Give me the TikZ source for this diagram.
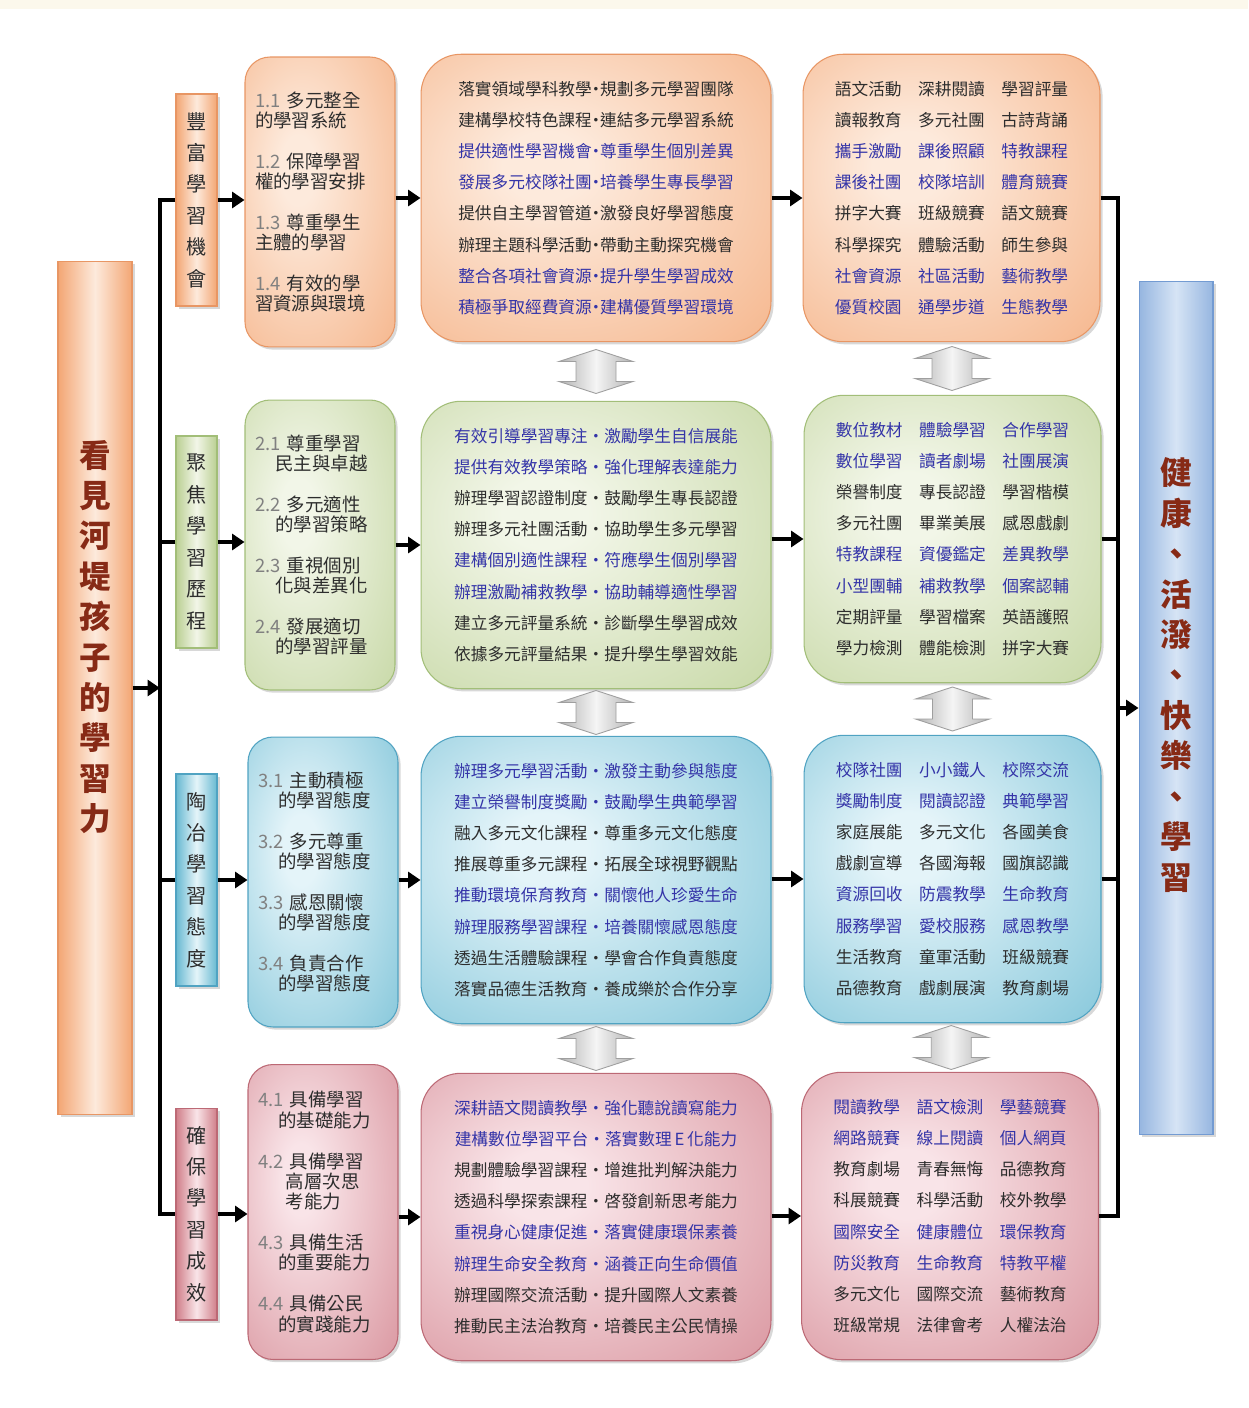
\documentclass[tikz,border=0pt]{standalone}
\usepackage{fontspec}
\setmainfont{Noto Sans CJK TC}
\usetikzlibrary{arrows.meta,calc,shadows}

% Soft radial shading: light centre, coloured rim
\makeatletter
\pgfdeclareradialshading[tikz@radial@inner,tikz@radial@outer]{softradial}{\pgfpoint{-8bp}{6bp}}{%
  color(0bp)=(tikz@radial@inner);color(6bp)=(tikz@radial@inner);color(52bp)=(tikz@radial@outer);color(75bp)=(tikz@radial@outer)}
\makeatother

% Colours of the four rows and the two side labels
\definecolor{oraD}{RGB}{243,166,116}
\definecolor{oraL}{RGB}{253,234,220}
\definecolor{oraB}{RGB}{232,150,100}
\definecolor{grnD}{RGB}{186,207,146}
\definecolor{grnL}{RGB}{242,246,232}
\definecolor{grnB}{RGB}{162,190,120}
\definecolor{bluD}{RGB}{104,185,209}
\definecolor{bluL}{RGB}{228,244,249}
\definecolor{bluB}{RGB}{80,163,194}
\definecolor{pnkD}{RGB}{208,126,137}
\definecolor{pnkL}{RGB}{249,228,232}
\definecolor{pnkB}{RGB}{188,105,117}
\definecolor{goalD}{RGB}{150,182,224}
\definecolor{goalL}{RGB}{214,228,245}
\definecolor{goalB}{RGB}{115,155,210}
\definecolor{txtblue}{RGB}{52,52,168}
\definecolor{txtdark}{RGB}{45,45,45}
\definecolor{txtred}{RGB}{135,42,22}
\definecolor{cream}{RGB}{252,248,236}

\newcommand{\blu}[1]{\textcolor{txtblue}{#1}}
\newcommand{\drk}[1]{\textcolor{txtdark}{#1}}
\newcommand{\secno}[1]{\textcolor{gray}{#1}}
\newcommand{\colgap}{\hspace{0.33cm}}
\newcommand{\middot}{\makebox[0.5em]{·}}

\tikzset{
  shade box/.style={draw=#1B, line width=0.6pt, inner color=#1L, outer color=#1D, shading=softradial,
    drop shadow={shadow xshift=1.5pt, shadow yshift=-1.5pt, opacity=0.3}},
  bigbox/.style={draw=#1B, line width=0.6pt, left color=#1D, right color=#1D, middle color=#1L,
    minimum width=1.48cm, minimum height=17.06cm,
    drop shadow={shadow xshift=1.5pt, shadow yshift=-1.5pt, opacity=0.3}},
  bigtext/.style={align=center, text=txtred, font=\fontsize{18pt}{23pt}\selectfont\bfseries},
  tagbox/.style={draw=#1B, line width=0.6pt, left color=#1D, right color=#1D, middle color=#1L,
    minimum width=0.82cm, minimum height=4.24cm, align=center, text=txtdark,
    font=\fontsize{11.5pt}{17.9pt}\selectfont,
    drop shadow={shadow xshift=1.5pt, shadow yshift=-1.5pt, opacity=0.3}},
  subbox/.style={shade box=#1, rounded corners=0.5cm, minimum width=3cm, minimum height=5.8cm,
    text width=2.6cm, align=left, text=txtdark, font=\fontsize{10.5pt}{11.6pt}\selectfont},
  midbox/.style={shade box=#1, rounded corners=0.8cm, minimum width=7cm, minimum height=5.75cm,
    align=center, font=\fontsize{9.5pt}{17.75pt}\selectfont},
  resbox/.style={shade box=#1, rounded corners=0.8cm, minimum width=5.94cm, minimum height=5.75cm,
    align=center, font=\fontsize{9.5pt}{17.75pt}\selectfont},
  trunk/.style={line width=2.6pt},
  conn/.style={line width=2.6pt, -{Triangle[length=7pt,width=9pt]}},
  updown/.pic={
    \shade[left color=gray!60, right color=gray!60, middle color=gray!8, draw=gray!75, line width=0.5pt]
      (0,-22) -- (37,-10) -- (20,-10) -- (20,10) -- (37,10) -- (0,22)
      -- (-37,10) -- (-20,10) -- (-20,-10) -- (-37,-10) -- cycle;
  }
}

\begin{document}
\begin{tikzpicture}[x=0.02cm, y=-0.02cm]

% Canvas
\useasboundingbox (0,0) rectangle (1248,1408);
\fill[white] (0,0) rectangle (1248,1408);
\fill[cream] (0,0) rectangle (1248,9);

% Main idea on the left, goal on the right
\node[bigbox=ora] (main) at (95,688) {};
\node[bigtext] (maintext) at (95,637) {看\\見\\河\\堤\\孩\\子\\的\\學\\習\\力};
\node[bigbox=goal] (goal) at (1176,708) {};
\node[bigtext] (goaltext) at (1176,675) {健\\康\\、\\活\\潑\\、\\快\\樂\\、\\學\\習};

% Row tags
\node[tagbox=ora] (s1) at (196.5,200) {豐\\富\\學\\習\\機\\會};
\node[tagbox=grn] (s2) at (196.5,542) {聚\\焦\\學\\習\\歷\\程};
\node[tagbox=blu] (s3) at (196.5,880) {陶\\冶\\學\\習\\態\\度};
\node[tagbox=pnk] (s4) at (196.5,1214) {確\\保\\學\\習\\成\\效};

% Sub-goals
\node[subbox=ora] (l1) at (320,202) {\secno{1.1} 多元整全\\的學習系統\\[11.6pt]
  \secno{1.2} 保障學習\\權的學習安排\\[11.6pt]
  \secno{1.3} 尊重學生\\主體的學習\\[11.6pt]
  \secno{1.4} 有效的學\\習資源與環境};
\node[subbox=grn] (l2) at (320,545) {\secno{2.1} 尊重學習\\\hspace*{1.1em}民主與卓越\\[11.6pt]
  \secno{2.2} 多元適性\\\hspace*{1.1em}的學習策略\\[11.6pt]
  \secno{2.3} 重視個別\\\hspace*{1.1em}化與差異化\\[11.6pt]
  \secno{2.4} 發展適切\\\hspace*{1.1em}的學習評量};
\node[subbox=blu] (l3) at (323,882) {\secno{3.1} 主動積極\\\hspace*{1.1em}的學習態度\\[11.6pt]
  \secno{3.2} 多元尊重\\\hspace*{1.1em}的學習態度\\[11.6pt]
  \secno{3.3} 感恩關懷\\\hspace*{1.1em}的學習態度\\[11.6pt]
  \secno{3.4} 負責合作\\\hspace*{1.1em}的學習態度};
\node[subbox=pnk, minimum height=5.9cm] (l4) at (323,1212) {\secno{4.1} 具備學習\\\hspace*{1.1em}的基礎能力\\[11.6pt]
  \secno{4.2} 具備學習\\\hspace*{1.5em}高層次思\\\hspace*{1.5em}考能力\\[11.6pt]
  \secno{4.3} 具備生活\\\hspace*{1.1em}的重要能力\\[11.6pt]
  \secno{4.4} 具備公民\\\hspace*{1.1em}的實踐能力};

% Strategies
\node[midbox=ora] (m1) at (596,198) {\drk{落實領域學科教學\middot 規劃多元學習團隊}\\
  \drk{建構學校特色課程\middot 連結多元學習系統}\\
  \blu{提供適性學習機會\middot 尊重學生個別差異}\\
  \blu{發展多元校隊社團\middot 培養學生專長學習}\\
  \drk{提供自主學習管道\middot 激發良好學習態度}\\
  \drk{辦理主題科學活動\middot 帶動主動探究機會}\\
  \blu{整合各項社會資源\middot 提升學生學習成效}\\
  \blu{積極爭取經費資源\middot 建構優質學習環境}};
\node[midbox=grn] (m2) at (596,545) {\blu{有效引導學習專注・激勵學生自信展能}\\
  \blu{提供有效教學策略・強化理解表達能力}\\
  \drk{辦理學習認證制度・鼓勵學生專長認證}\\
  \drk{辦理多元社團活動・協助學生多元學習}\\
  \blu{建構個別適性課程・符應學生個別學習}\\
  \blu{辦理激勵補救教學・協助輔導適性學習}\\
  \drk{建立多元評量系統・診斷學生學習成效}\\
  \drk{依據多元評量結果・提升學生學習效能}};
\node[midbox=blu] (m3) at (596,880) {\blu{辦理多元學習活動・激發主動參與態度}\\
  \blu{建立榮譽制度獎勵・鼓勵學生典範學習}\\
  \drk{融入多元文化課程・尊重多元文化態度}\\
  \drk{推展尊重多元課程・拓展全球視野觀點}\\
  \blu{推動環境保育教育・關懷他人珍愛生命}\\
  \blu{辦理服務學習課程・培養關懷感恩態度}\\
  \drk{透過生活體驗課程・學會合作負責態度}\\
  \drk{落實品德生活教育・養成樂於合作分享}};
\node[midbox=pnk] (m4) at (596,1217) {\blu{深耕語文閱讀教學・強化聽說讀寫能力}\\
  \blu{建構數位學習平台・落實數理\,E\,化能力}\\
  \drk{規劃體驗學習課程・增進批判解決能力}\\
  \drk{透過科學探索課程・啓發創新思考能力}\\
  \blu{重視身心健康促進・落實健康環保素養}\\
  \blu{辦理生命安全教育・涵養正向生命價值}\\
  \drk{辦理國際交流活動・提升國際人文素養}\\
  \drk{推動民主法治教育・培養民主公民情操}};

% Activities
\node[resbox=ora] (r1) at (951.5,198) {\drk{語文活動\colgap 深耕閱讀\colgap 學習評量}\\
  \drk{讀報教育\colgap 多元社團\colgap 古詩背誦}\\
  \blu{攜手激勵\colgap 課後照顧\colgap 特教課程}\\
  \blu{課後社團\colgap 校隊培訓\colgap 體育競賽}\\
  \drk{拼字大賽\colgap 班級競賽\colgap 語文競賽}\\
  \drk{科學探究\colgap 體驗活動\colgap 師生參與}\\
  \blu{社會資源\colgap 社區活動\colgap 藝術教學}\\
  \blu{優質校園\colgap 通學步道\colgap 生態教學}};
\node[resbox=grn] (r2) at (952.5,539) {\blu{數位教材\colgap 體驗學習\colgap 合作學習}\\
  \blu{數位學習\colgap 讀者劇場\colgap 社團展演}\\
  \drk{榮譽制度\colgap 專長認證\colgap 學習楷模}\\
  \drk{多元社團\colgap 畢業美展\colgap 感恩戲劇}\\
  \blu{特教課程\colgap 資優鑑定\colgap 差異教學}\\
  \blu{小型團輔\colgap 補救教學\colgap 個案認輔}\\
  \drk{定期評量\colgap 學習檔案\colgap 英語護照}\\
  \drk{學力檢測\colgap 體能檢測\colgap 拼字大賽}};
\node[resbox=blu] (r3) at (952.5,879) {\blu{校隊社團\colgap 小小鐵人\colgap 校際交流}\\
  \blu{獎勵制度\colgap 閱讀認證\colgap 典範學習}\\
  \drk{家庭展能\colgap 多元文化\colgap 各國美食}\\
  \drk{戲劇宣導\colgap 各國海報\colgap 國旗認識}\\
  \blu{資源回收\colgap 防震教學\colgap 生命教育}\\
  \blu{服務學習\colgap 愛校服務\colgap 感恩教學}\\
  \drk{生活教育\colgap 童軍活動\colgap 班級競賽}\\
  \drk{品德教育\colgap 戲劇展演\colgap 教育劇場}};
\node[resbox=pnk] (r4) at (950,1216) {\blu{閱讀教學\colgap 語文檢測\colgap 學藝競賽}\\
  \blu{網路競賽\colgap 線上閱讀\colgap 個人網頁}\\
  \drk{教育劇場\colgap 青春無悔\colgap 品德教育}\\
  \drk{科展競賽\colgap 科學活動\colgap 校外教學}\\
  \blu{國際安全\colgap 健康體位\colgap 環保教育}\\
  \blu{防災教育\colgap 生命教育\colgap 特教平權}\\
  \drk{多元文化\colgap 國際交流\colgap 藝術教育}\\
  \drk{班級常規\colgap 法律會考\colgap 人權法治}};

% Links between the rows
\pic at ($(m1.south)!0.5!(m2.north)$) {updown};
\pic at ($(m2.south)!0.5!(m3.north)$) {updown};
\pic at ($(m3.south)!0.5!(m4.north)$) {updown};
\pic at ($(r1.south)!0.5!(r2.north)$) {updown};
\pic at ($(r2.south)!0.5!(r3.north)$) {updown};
\pic at ($(r3.south)!0.5!(r4.north)$) {updown};

% Left trunk
\coordinate (lt) at (160,686);
\draw[trunk] (s1.west) -| (lt) |- (s4.west);
\draw[trunk] (s2.west) -- (s2.west -| lt);
\draw[trunk] (s3.west) -- (s3.west -| lt);
\draw[conn] (main.east) -- (main.east -| lt);

% Arrows along each row
\draw[conn] (s1.east) -- (s1.east -| l1.west);
\draw[conn] (s2.east) -- (s2.east -| l2.west);
\draw[conn] (s3.east) -- (s3.east -| l3.west);
\draw[conn] (s4.east) -- (s4.east -| l4.west);
\draw[conn] (m1.west -| l1.east) -- (m1.west);
\draw[conn] (m2.west -| l2.east) -- (m2.west);
\draw[conn] (m3.west -| l3.east) -- (m3.west);
\draw[conn] (m4.west -| l4.east) -- (m4.west);
\draw[conn] (r1.west -| m1.east) -- (r1.west);
\draw[conn] (r2.west -| m2.east) -- (r2.west);
\draw[conn] (r3.west -| m3.east) -- (r3.west);
\draw[conn] (r4.west -| m4.east) -- (r4.west);

% Right trunk
\coordinate (rt) at (1118,706);
\draw[trunk] (r1.east) -| (rt) |- (r4.east);
\draw[trunk] (r2.east) -- (r2.east -| rt);
\draw[trunk] (r3.east) -- (r3.east -| rt);
\draw[conn] (goal.west -| rt) -- (goal.west);

\end{tikzpicture}
\end{document}
